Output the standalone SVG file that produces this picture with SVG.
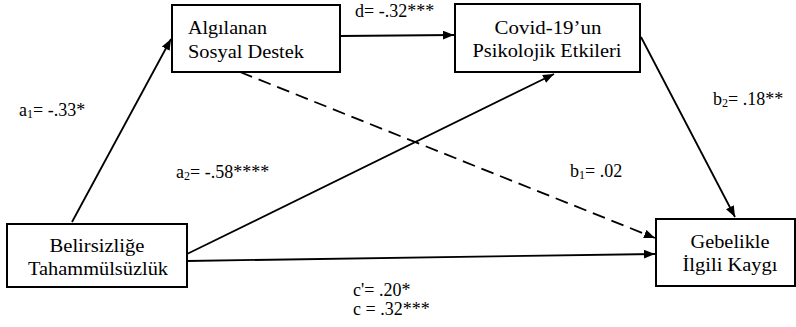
<svg xmlns="http://www.w3.org/2000/svg" width="796" height="327" viewBox="0 0 796 327">
<defs>
<style>
.box{fill:#fff;stroke:#000;stroke-width:2}
.t{font-family:'Liberation Serif','Times New Roman',serif;font-size:19px;fill:#000}
.lbl{font-family:'Liberation Serif','Times New Roman',serif;font-size:18px;fill:#000}
.c{stroke:#000;stroke-width:1.8;fill:none}
.dash{stroke-dasharray:13 7}
</style>
<marker id="ah" viewBox="0 0 10 8" refX="10" refY="4" markerWidth="11" markerHeight="9" markerUnits="userSpaceOnUse" orient="auto">
<path d="M0,0 L10,4 L0,8 Z" fill="#000"/>
</marker>
</defs>
<rect width="796" height="327" fill="#fff"/>
<g id="connectors">
<line class="c" x1="72" y1="222" x2="171" y2="39" marker-end="url(#ah)"/>
<line class="c" x1="340" y1="36" x2="454" y2="35" marker-end="url(#ah)"/>
<line class="c" x1="187" y1="254" x2="554" y2="74" marker-end="url(#ah)"/>
<line class="c" x1="641" y1="37" x2="735" y2="217" marker-end="url(#ah)"/>
<line class="c dash" x1="240" y1="72" x2="655" y2="238" marker-end="url(#ah)"/>
<line class="c" x1="187" y1="261" x2="655" y2="254" marker-end="url(#ah)"/>
</g>
<g id="algilanan">
<rect class="box" x="172" y="5" width="168" height="67"/>
<text class="t" x="188" y="34" textLength="79" lengthAdjust="spacingAndGlyphs">Algılanan</text>
<text class="t" x="188" y="58" textLength="116" lengthAdjust="spacingAndGlyphs">Sosyal Destek</text>
</g>
<g id="covid">
<rect class="box" x="455" y="4" width="185" height="68"/>
<text class="t" x="548" y="34" text-anchor="middle" textLength="107" lengthAdjust="spacingAndGlyphs">Covid-19’un</text>
<text class="t" x="547" y="57" text-anchor="middle" textLength="149" lengthAdjust="spacingAndGlyphs">Psikolojik Etkileri</text>
</g>
<g id="belirsizlige">
<rect class="box" x="7" y="224" width="180" height="63"/>
<text class="t" x="97" y="252" text-anchor="middle" textLength="95" lengthAdjust="spacingAndGlyphs">Belirsizliğe</text>
<text class="t" x="98" y="275" text-anchor="middle" textLength="140" lengthAdjust="spacingAndGlyphs">Tahammülsüzlük</text>
</g>
<g id="gebelikle">
<rect class="box" x="656" y="219" width="139" height="67"/>
<text class="t" x="730" y="248" text-anchor="middle" textLength="79" lengthAdjust="spacingAndGlyphs">Gebelikle</text>
<text class="t" x="730" y="271" text-anchor="middle" textLength="95" lengthAdjust="spacingAndGlyphs">İlgili Kaygı</text>
</g>
<g id="labels">
<text class="lbl" x="19" y="116">a<tspan font-size="12" dy="2">1</tspan><tspan dy="-2">= -.33*</tspan></text>
<text class="lbl" x="355" y="17">d= -.32***</text>
<text class="lbl" x="176" y="178">a<tspan font-size="12" dy="2">2</tspan><tspan dy="-2">= -.58****</tspan></text>
<text class="lbl" x="570" y="177">b<tspan font-size="12" dy="2">1</tspan><tspan dy="-2">= .02</tspan></text>
<text class="lbl" x="713" y="105">b<tspan font-size="12" dy="2">2</tspan><tspan dy="-2">= .18**</tspan></text>
<text class="lbl" x="353" y="296">c'= .20*</text>
<text class="lbl" x="353" y="315">c = .32***</text>
</g>
</svg>
